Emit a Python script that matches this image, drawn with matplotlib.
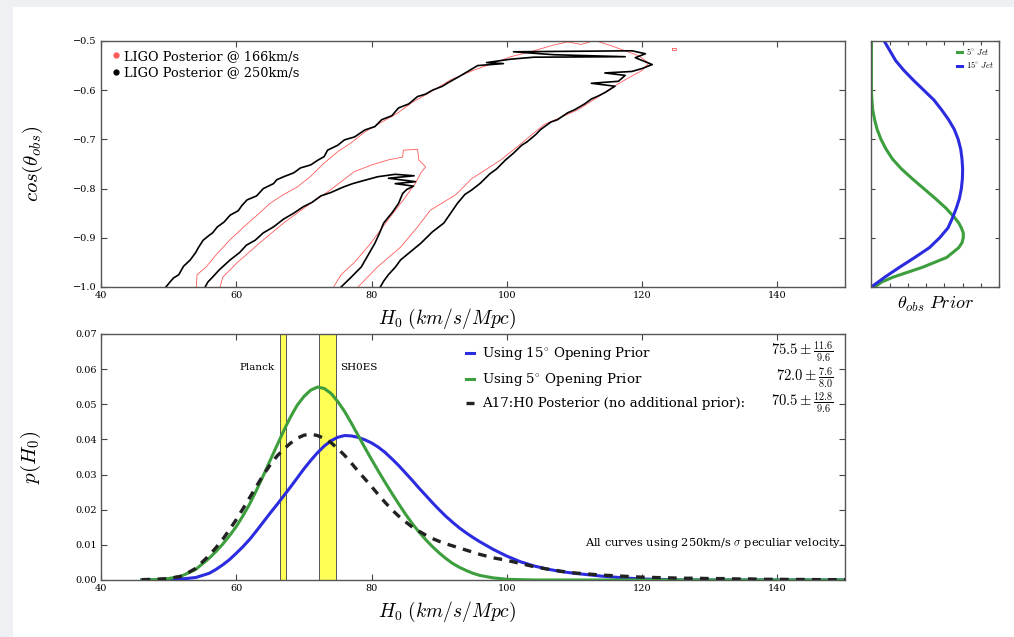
import numpy as np
import matplotlib.pyplot as plt
from matplotlib.lines import Line2D
from matplotlib.patches import Rectangle

plt.rcParams['font.family'] = 'DejaVu Serif'
plt.rcParams['mathtext.fontset'] = 'cm'

# ---- LIGO posterior contours in (H0, cos theta_obs) ----
# 250 km/s peculiar velocity, outer contour
blk_out_h = [49.6, 50.2, 50.7, 51.5, 52.2, 53.2, 54.0, 54.4, 55.1, 56.0, 56.5, 57.2, 58.2,
             59.1, 60.3, 60.8, 61.6, 63.0, 64.0, 65.5, 66.0, 67.0, 68.5, 69.5, 71.0, 72.1,
             73.0, 73.5, 75.0, 76.0, 77.5, 79.0, 80.5, 81.5, 83.0, 84.0, 85.5, 86.8, 88.0,
             89.0, 90.5, 91.3, 93.0, 95.7, 99.5, 97.0, 100.6, 104.0, 117.5, 107.0, 101.0,
             118.5, 120.5, 119.0, 121.5, 120.0, 118.5, 114.5, 117.5, 116.5, 112.5, 116.0,
             114.5, 113.5, 112.5, 111.5, 110.0, 109.0, 107.5, 106.5, 105.0, 104.3, 103.0,
             102.2, 101.0, 99.8, 98.5, 97.5, 96.1, 94.8, 93.8, 92.7, 91.8, 90.7, 89.0, 87.3,
             85.8, 84.3, 83.5, 82.5, 81.8, 81.3]
blk_out_c = [-1.0, -0.990, -0.982, -0.975, -0.958, -0.945, -0.930, -0.920, -0.905, -0.895,
             -0.890, -0.878, -0.868, -0.854, -0.845, -0.835, -0.823, -0.815, -0.800, -0.790,
             -0.782, -0.776, -0.768, -0.758, -0.752, -0.742, -0.735, -0.722, -0.712, -0.701,
             -0.695, -0.681, -0.674, -0.660, -0.652, -0.636, -0.628, -0.613, -0.608, -0.600,
             -0.592, -0.585, -0.572, -0.550, -0.546, -0.544, -0.537, -0.533, -0.532, -0.528,
             -0.522, -0.520, -0.526, -0.534, -0.548, -0.556, -0.562, -0.565, -0.570, -0.582,
             -0.586, -0.592, -0.605, -0.612, -0.618, -0.628, -0.640, -0.646, -0.660, -0.665,
             -0.680, -0.690, -0.705, -0.712, -0.728, -0.742, -0.760, -0.770, -0.789, -0.803,
             -0.812, -0.830, -0.848, -0.870, -0.888, -0.911, -0.928, -0.945, -0.960, -0.975,
             -0.988, -1.0]

# 250 km/s, inner contour
blk_in_h = [55.4, 55.8, 56.5, 57.5, 58.3, 59.1, 60.5, 61.5, 62.8, 64.0, 65.5, 67.0, 68.5,
            69.9, 71.2, 72.5, 74.0, 75.8, 77.2, 78.5, 80.9, 83.5, 86.3, 82.5, 86.5, 83.5,
            86.2, 85.2, 84.6, 84.0, 83.1, 82.5, 81.8, 81.2, 80.5, 79.5, 78.5, 77.0, 75.5]
blk_in_c = [-1.0, -0.990, -0.980, -0.965, -0.955, -0.945, -0.930, -0.915, -0.905, -0.890,
            -0.878, -0.862, -0.850, -0.837, -0.828, -0.815, -0.808, -0.797, -0.790, -0.785,
            -0.776, -0.771, -0.774, -0.779, -0.786, -0.790, -0.795, -0.802, -0.810, -0.830,
            -0.848, -0.858, -0.870, -0.890, -0.911, -0.935, -0.959, -0.980, -1.0]

# 166 km/s, outer contour
red_out_h = [54.1, 54.2, 55.5, 57.0, 59.0, 61.1, 63.0, 65.0, 67.0, 69.0, 71.0, 73.0, 75.0,
             76.9, 79.0, 81.5, 83.8, 86.0, 89.2, 91.7, 95.0, 98.0, 100.6, 104.0, 107.0,
             109.0, 111.0, 113.0, 115.5, 117.5, 119.5, 121.0, 120.0, 118.0, 115.5, 113.0,
             110.5, 108.0, 105.5, 102.0, 99.1, 96.5, 94.8, 92.5, 88.7, 86.8, 84.3, 80.9, 78.0]
red_out_c = [-1.0, -0.975, -0.960, -0.935, -0.905, -0.878, -0.855, -0.830, -0.812, -0.797,
             -0.775, -0.748, -0.725, -0.708, -0.685, -0.665, -0.647, -0.625, -0.600, -0.579,
             -0.560, -0.545, -0.532, -0.520, -0.508, -0.502, -0.507, -0.499, -0.510, -0.520,
             -0.530, -0.545, -0.560, -0.575, -0.595, -0.618, -0.640, -0.655, -0.670, -0.710,
             -0.742, -0.765, -0.780, -0.812, -0.844, -0.878, -0.919, -0.959, -1.0]

# 166 km/s, inner contour
red_in_h = [57.6, 58.0, 60.1, 63.5, 67.0, 70.5, 73.9, 77.4, 80.0, 82.4, 84.6, 84.7, 86.8,
            87.0, 88.0, 87.3, 86.5, 84.7, 82.4, 79.9, 77.4, 75.5, 74.4]
red_in_c = [-1.0, -0.980, -0.951, -0.910, -0.870, -0.835, -0.803, -0.766, -0.752, -0.742,
            -0.736, -0.722, -0.720, -0.742, -0.756, -0.768, -0.789, -0.823, -0.864, -0.911,
            -0.951, -0.975, -1.0]

# small 166 km/s island
red_isl_h = [124.4, 125.0, 125.0, 124.4, 124.4]
red_isl_c = [-0.514, -0.514, -0.518, -0.518, -0.514]

# ---- theta_obs priors (relative density vs cos theta_obs) ----
prior15_c = [-0.50, -0.52, -0.54, -0.56, -0.58, -0.60, -0.62, -0.64, -0.66, -0.68, -0.70,
             -0.72, -0.74, -0.76, -0.78, -0.80, -0.82, -0.84, -0.86, -0.88, -0.90, -0.92,
             -0.94, -0.96, -0.98, -1.0]
prior15_p = [0.10, 0.145, 0.19, 0.255, 0.33, 0.41, 0.49, 0.55, 0.605, 0.65, 0.68, 0.70,
             0.71, 0.715, 0.713, 0.705, 0.69, 0.665, 0.635, 0.60, 0.535, 0.455, 0.34, 0.22,
             0.105, 0.0]
prior5_c = [-0.50, -0.60, -0.62, -0.64, -0.66, -0.68, -0.70, -0.72, -0.74, -0.76, -0.78,
            -0.80, -0.82, -0.84, -0.86, -0.87, -0.88, -0.89, -0.90, -0.91, -0.92, -0.94,
            -0.96, -0.98, -0.99, -1.0]
prior5_p = [0.0, 0.0, 0.004, 0.01, 0.025, 0.045, 0.075, 0.115, 0.165, 0.235, 0.32, 0.41,
            0.50, 0.585, 0.655, 0.685, 0.705, 0.72, 0.72, 0.71, 0.685, 0.59, 0.40, 0.17,
            0.08, 0.026]

# ---- H0 posteriors ----
h0 = [46, 48, 50, 52, 54, 56] + list(range(57, 97)) + list(range(98, 151, 2))
p_15deg = [0.0, 0.0, 0.0001, 0.0003, 0.0007, 0.0019,
           0.0030, 0.0043, 0.0058, 0.0076, 0.0095, 0.0116, 0.0140, 0.0165, 0.0190, 0.0214,
           0.0239, 0.0264, 0.0290, 0.0316, 0.0340, 0.0362, 0.0381, 0.0396, 0.0406, 0.0411,
           0.0410, 0.0406, 0.0399, 0.0390, 0.0378, 0.0363, 0.0345, 0.0326, 0.0305, 0.0284,
           0.0262, 0.0241, 0.0220, 0.0200, 0.0181, 0.0164, 0.0148, 0.0134, 0.0121, 0.0109,
           0.0087, 0.0068, 0.0052, 0.0040, 0.0031, 0.0024, 0.0019, 0.0015, 0.0011, 0.0008,
           0.0005, 0.0003, 0.0002, 0.0001, 0.0, 0.0, 0.0, 0.0, 0.0, 0.0, 0.0, 0.0, 0.0, 0.0,
           0.0, 0.0, 0.0]
p_5deg = [0.0, 0.0001, 0.0004, 0.0012, 0.0030, 0.0062,
          0.0081, 0.0102, 0.0126, 0.0152, 0.0183, 0.0217, 0.0256, 0.0297, 0.0340, 0.0382,
          0.0424, 0.0463, 0.0497, 0.0522, 0.0540, 0.0549, 0.0545, 0.0531, 0.0508, 0.0480,
          0.0447, 0.0412, 0.0377, 0.0343, 0.0310, 0.0278, 0.0247, 0.0217, 0.0188, 0.0161,
          0.0137, 0.0115, 0.0095, 0.0077, 0.0061, 0.0047, 0.0036, 0.0027, 0.0019, 0.0013,
          0.0006, 0.0002, 0.0001, 0.0, 0.0, 0.0, 0.0, 0.0, 0.0, 0.0, 0.0, 0.0, 0.0, 0.0,
          0.0, 0.0, 0.0, 0.0, 0.0, 0.0, 0.0, 0.0, 0.0, 0.0, 0.0, 0.0, 0.0]
p_a17 = [0.0001, 0.0002, 0.0004, 0.0011, 0.0033, 0.0070,
         0.0092, 0.0116, 0.0143, 0.0172, 0.0203, 0.0235, 0.0267, 0.0299, 0.0327, 0.0352,
         0.0372, 0.0389, 0.0403, 0.0412, 0.0415, 0.0411, 0.0403, 0.0391, 0.0374, 0.0355,
         0.0333, 0.0310, 0.0288, 0.0266, 0.0243, 0.0221, 0.0200, 0.0182, 0.0166, 0.0151,
         0.0139, 0.0128, 0.0118, 0.0110, 0.0103, 0.0097, 0.0091, 0.0085, 0.0079, 0.0073,
         0.0063, 0.0056, 0.0047, 0.0038, 0.0031, 0.0025, 0.0020, 0.0017, 0.0014, 0.0012,
         0.0010, 0.0008, 0.0007, 0.0006, 0.0005, 0.0005, 0.0004, 0.0004, 0.0003, 0.0003,
         0.0002, 0.0002, 0.00015, 0.00015, 0.0001, 0.0001, 0.0001]

planck = (66.4, 67.4)
shoes = (72.2, 74.7)
fit_labels = [r'$75.5\pm\frac{11.6}{9.6}$', r'$72.0\pm\frac{7.6}{8.0}$',
              r'$70.5\pm\frac{12.8}{9.6}$']

BLUE = '#2b2be0'
GREEN = '#3c9e3c'
RED = '#ff5a5a'


def style_axes(ax):
    ax.tick_params(direction='in', top=True, right=True, labelsize=7, length=4,
                   width=0.8, color='#444444', pad=3)
    for s in ax.spines.values():
        s.set_color('#555555')
        s.set_linewidth(1.0)


fig = plt.figure(figsize=(10.14, 6.37), dpi=100)
fig.patch.set_facecolor('#eff0f3')
fig.patches.append(Rectangle((13 / 1014, 0), 1, 1 - 7 / 637, transform=fig.transFigure,
                             facecolor='white', edgecolor='none', zorder=-1))

ax1 = fig.add_axes([0.0996, 0.5495, 0.7337, 0.3862])
ax2 = fig.add_axes([0.8594, 0.5495, 0.1258, 0.3862])
ax3 = fig.add_axes([0.0996, 0.0895, 0.7337, 0.3862])

# --- top: posterior contours ---
ax1.plot(red_out_h, red_out_c, color=RED, lw=0.6)
ax1.plot(red_in_h, red_in_c, color=RED, lw=0.6)
ax1.plot(red_isl_h, red_isl_c, color=RED, lw=0.6)
ax1.plot(blk_out_h, blk_out_c, color='black', lw=1.2)
ax1.plot(blk_in_h, blk_in_c, color='black', lw=1.2)
ax1.set_xlim(40, 150)
ax1.set_ylim(-1.0, -0.5)
ax1.set_xticks([40, 60, 80, 100, 120, 140])
ax1.set_yticks([-1.0, -0.9, -0.8, -0.7, -0.6, -0.5])
style_axes(ax1)
ax1.set_xlabel(r'$H_0\ (km/s/Mpc)$', fontsize=14)
ax1.xaxis.set_label_coords(0.465, -0.08)
ax1.set_ylabel(r'$cos(\theta_{obs})$', fontsize=15)
ax1.yaxis.set_label_coords(-0.075, 0.5)
handles = [Line2D([], [], ls='none', marker='o', ms=3.5, color=RED),
           Line2D([], [], ls='none', marker='o', ms=3.5, color='black')]
ax1.legend(handles, ['LIGO Posterior @ 166km/s', 'LIGO Posterior @ 250km/s'],
           loc='upper left', frameon=False, fontsize=9.3, handletextpad=0.1,
           borderaxespad=0.3, labelspacing=0.25, handlelength=1.0)

# --- right: theta_obs priors ---
ax2.plot(prior5_p, prior5_c, color=GREEN, lw=2.2, label=r'$5^{\circ}\ Jet$')
ax2.plot(prior15_p, prior15_c, color=BLUE, lw=2.2, label=r'$15^{\circ}\ Jet$')
ax2.set_xlim(0, 1)
ax2.set_ylim(-1.0, -0.5)
ax2.set_xticks(np.arange(8) / 7)
ax2.set_yticks([-1.0, -0.9, -0.8, -0.7, -0.6, -0.5])
style_axes(ax2)
ax2.tick_params(labelleft=False, labelbottom=False, length=3)
ax2.set_xlabel(r'$\theta_{obs}\ Prior$', fontsize=13, labelpad=6)
ax2.legend(loc='upper right', frameon=False, fontsize=6, handlelength=0.6,
           handletextpad=0.5, labelspacing=0.3, borderaxespad=0.2)

# --- bottom: H0 posteriors ---
for lo, hi in (planck, shoes):
    ax3.axvspan(lo, hi, facecolor='#ffff55', edgecolor='#555555', lw=0.7, zorder=1)
ax3.text(planck[0] - 0.8, 0.0604, 'Planck', fontsize=7.5, ha='right', va='center')
ax3.text(shoes[1] + 0.6, 0.0604, 'SH0ES', fontsize=7.5, ha='left', va='center')

ax3.plot(h0, p_15deg, color=BLUE, lw=2.2, zorder=3, label=r'Using 15$^{\circ}$ Opening Prior')
ax3.plot(h0, p_5deg, color=GREEN, lw=2.2, zorder=3, label=r'Using 5$^{\circ}$ Opening Prior')
ax3.plot(h0, p_a17, color='#222222', lw=2.4, ls=(0, (2.6, 2.2)), zorder=4,
         label='A17:H0 Posterior (no additional prior):')
ax3.set_xlim(40, 150)
ax3.set_ylim(0, 0.07)
ax3.set_xticks([40, 60, 80, 100, 120, 140])
ax3.set_yticks(np.arange(0, 0.071, 0.01))
ax3.yaxis.set_major_formatter(plt.FormatStrFormatter('%.2f'))
style_axes(ax3)
ax3.set_xlabel(r'$H_0\ (km/s/Mpc)$', fontsize=14)
ax3.xaxis.set_label_coords(0.465, -0.08)
ax3.set_ylabel(r'$p(H_0)$', fontsize=15)
ax3.yaxis.set_label_coords(-0.078, 0.5)
ax3.legend(loc='upper left', bbox_to_anchor=(0.475, 1.0), frameon=False, fontsize=9.6,
           handlelength=0.6, handletextpad=0.6, labelspacing=0.65)
for y, lab in zip([0.927, 0.821, 0.7195], fit_labels):
    ax3.text(0.985, y, lab, transform=ax3.transAxes, ha='right', va='center',
             fontsize=10.5)
ax3.text(0.998, 0.15, r'All curves using 250km/s $\sigma$ peculiar velocity.',
         transform=ax3.transAxes, ha='right', va='center', fontsize=8.2)

fig.savefig('out.png', dpi=100, facecolor=fig.get_facecolor())
